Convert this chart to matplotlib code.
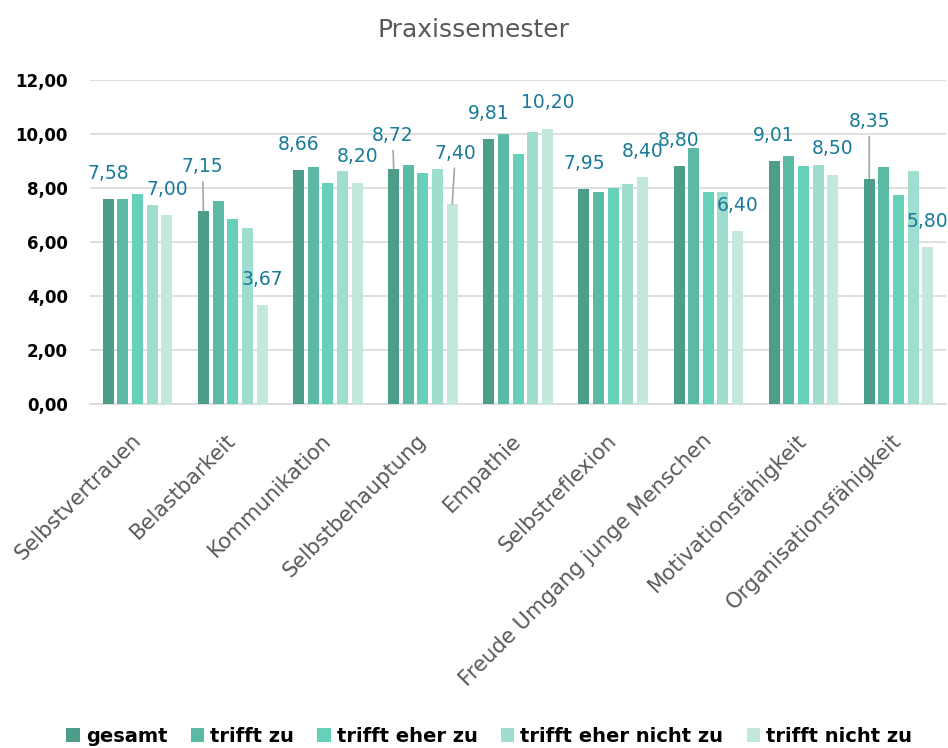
import matplotlib
matplotlib.use("Agg")
import matplotlib.pyplot as plt
from matplotlib.patches import Patch
import numpy as np

plt.rcParams['font.family'] = ['DejaVu Sans']

kategorien = ["Selbstvertrauen", "Belastbarkeit", "Kommunikation", "Selbstbehauptung",
              "Empathie", "Selbstreflexion", "Freude Umgang junge Menschen",
              "Motivationsfähigkeit", "Organisationsfähigkeit"]

gesamt = [7.58, 7.15, 8.66, 8.72, 9.81, 7.95, 8.80, 9.01, 8.35]
trifft_zu = [7.58, 7.51, 8.77, 8.85, 10.00, 7.85, 9.48, 9.19, 8.79]
trifft_eher_zu = [7.77, 6.85, 8.20, 8.57, 9.27, 8.00, 7.84, 8.83, 7.73]
trifft_eher_nicht_zu = [7.38, 6.51, 8.62, 8.70, 10.09, 8.15, 7.84, 8.85, 8.62]
trifft_nicht_zu = [7.00, 3.67, 8.20, 7.40, 10.20, 8.40, 6.40, 8.50, 5.80]

serien = [
    ("gesamt", gesamt, "#4c9e8b"),
    ("trifft zu", trifft_zu, "#5bbaa3"),
    ("trifft eher zu", trifft_eher_zu, "#66d1b9"),
    ("trifft eher nicht zu", trifft_eher_nicht_zu, "#9fdece"),
    ("trifft nicht zu", trifft_nicht_zu, "#c3e9de"),
]

# Beschriftungen, die mit Führungslinie weiter oben stehen: (Serie, Kategorie) -> (dx, dy) in pt
verschoben = {
    (0, 1): (-0.7, 31.7),
    (0, 3): (-0.7, 23.8),
    (4, 3): (2.2, 36.7),
    (0, 8): (0, 41.0),
}

label_farbe = "#187b9a"
grau = "#595959"

fig = plt.figure(figsize=(9.48, 7.48), dpi=100)
ax = fig.add_axes([0.095, 0.460, 0.903, 0.433])

x = np.arange(len(kategorien))
slot = 0.154
breite = 0.116

for i, (name, werte, farbe) in enumerate(serien):
    pos = x + (i - 2) * slot
    bars = ax.bar(pos, werte, width=breite, color=farbe, zorder=3)
    if i in (0, 4):
        for j, (b, v) in enumerate(zip(bars, werte)):
            txt = f"{v:.2f}".replace(".", ",")
            bx = b.get_x() + b.get_width() / 2
            if (i, j) in verschoben:
                dx, dy = verschoben[(i, j)]
                ax.annotate(txt, xy=(bx, v), xytext=(dx, dy), textcoords="offset points",
                            ha="center", va="center", fontsize=13.5, color=label_farbe,
                            arrowprops=dict(arrowstyle="-", color="#a6a6a6", lw=1.2,
                                            shrinkA=2, shrinkB=0), zorder=4)
            else:
                ax.annotate(txt, xy=(bx, v), xytext=(0, 18.5), textcoords="offset points",
                            ha="center", va="center", fontsize=13.5, color=label_farbe, zorder=4)

ax.set_xlim(-0.5, len(kategorien) - 0.5)
ax.set_ylim(0, 12)
ax.set_yticks(np.arange(0, 13, 2))
ax.set_yticklabels([f"{v:.2f}".replace(".", ",") for v in np.arange(0, 13, 2)],
                   fontsize=12, fontweight="bold", color="black")
ax.yaxis.grid(True, color="#d9d9d9", linewidth=1.2, zorder=0)
ax.tick_params(axis="y", length=0, pad=16)

ax.set_xticks(x)
ax.set_xticklabels(kategorien, rotation=45, ha="right", va="center",
                   rotation_mode="anchor", fontsize=15.3, color=grau)
ax.tick_params(axis="x", length=0, pad=24)

for s in ["top", "right", "left"]:
    ax.spines[s].set_visible(False)
ax.spines["bottom"].set_color("#d9d9d9")
ax.spines["bottom"].set_linewidth(1.2)

fig.text(0.5, 1 - 30 / 748, "Praxissemester", ha="center", va="center",
         fontsize=18, color=grau)

handles = [Patch(facecolor=f, edgecolor="none", label=n) for n, _, f in serien]
fig.legend(handles=handles, loc="center", bbox_to_anchor=(0.516, 0.016), ncol=5,
           frameon=False, handlelength=0.7, handleheight=0.7, handletextpad=0.3,
           columnspacing=1.2, prop={"weight": "bold", "size": 14})

fig.savefig("out.png", dpi=100)
